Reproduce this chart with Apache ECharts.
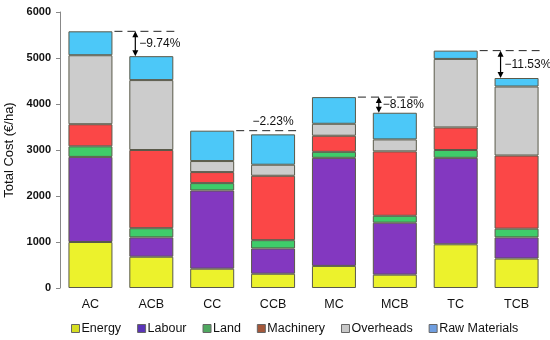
<!DOCTYPE html>
<html><head><meta charset="utf-8">
<script src="https://cdn.jsdelivr.net/npm/echarts@6/dist/echarts.min.js"></script>
<style>html,body{margin:0;padding:0;background:#fff}#c{width:550px;height:340px}</style>
</head><body><div id="c"></div>
<script>
const categories = ['AC','ACB','CC','CCB','MC','MCB','TC','TCB'];
const energy      = [1000, 680, 420, 310, 480, 290, 950, 640];
const labour      = [1850, 420, 1700, 550, 2350, 1130, 1880, 460];
const land        = [230, 200, 160, 180, 130, 150, 170, 190];
const machinery   = [480, 1700, 240, 1400, 350, 1400, 490, 1590];
const overheads   = [1500, 1520, 240, 240, 260, 260, 1490, 1500];
const rawMaterials= [520, 520, 660, 660, 580, 580, 180, 185];
const seriesNames = ['Energy','Labour','Land','Machinery','Overheads','Raw Materials'];
const yTicks = [0, 1000, 2000, 3000, 4000, 5000, 6000];
const changeLabels = ['−9.74%','−2.23%','−8.18%','−11.53%'];
const changeArrow = [true, false, true, true];

const values = [energy, labour, land, machinery, overheads, rawMaterials];
const colors = ['#ecf22c','#8338c0','#3fcc6a','#fb4747','#cccccc','#4cc8f8'];
const legendColors = ['#d6de22','#5a34b8','#4fa860','#a4583a','#c8c8c8','#6f9ee0'];
const totals = categories.map((c,i)=>values.reduce((s,a)=>s+a[i],0));
const BAR_W = 44;
const FONT = '"Liberation Sans", Arial, sans-serif';

const annData = [];
for (let k = 0; k < categories.length/2; k++) {
  const i = 2*k;
  annData.push([i, totals[i], totals[i+1], k]);
}

const barSeries = seriesNames.map((n,si)=>({
  name: n, type: 'bar', stack: 'total', barWidth: BAR_W,
  data: values[si],
  itemStyle: { color: colors[si], borderColor: '#5a5a4a', borderWidth: 1 },
  emphasis: { disabled: true }
}));

const annSeries = {
  type: 'custom', name: 'ann', silent: true, z: 10,
  data: annData,
  encode: { x: 0, y: 1 },
  renderItem: function(params, api) {
    const i = api.value(0), base = api.value(1), next = api.value(2), k = api.value(3);
    const half = BAR_W/2;
    const p0 = api.coord([i, base]);
    const p1 = api.coord([i+1, base]);
    const p2 = api.coord([i+1, next]);
    const children = [];
    children.push({ type: 'line', shape: { x1: p0[0]+half+2, y1: p0[1], x2: p1[0]+half+1, y2: p1[1] },
      style: { stroke: '#222', lineWidth: 1, lineDash: [8,5] } });
    if (changeArrow[k]) {
      const ax = p1[0] - half + 6;
      const y1 = p0[1], y2 = p2[1];
      children.push({ type: 'line', shape: { x1: ax, y1: y1+4, x2: ax, y2: y2-4 }, style: { stroke: '#000', lineWidth: 1.2 } });
      children.push({ type: 'polygon', shape: { points: [[ax, y1], [ax-3, y1+6], [ax+3, y1+6]] }, style: { fill: '#000' } });
      children.push({ type: 'polygon', shape: { points: [[ax, y2], [ax-3, y2-6], [ax+3, y2-6]] }, style: { fill: '#000' } });
      children.push({ type: 'text', x: ax+4, y: (y1+y2)/2,
        style: { text: changeLabels[k], fill: '#111', font: '12px ' + FONT, verticalAlign: 'middle', align: 'left' } });
    } else {
      children.push({ type: 'text', x: p1[0], y: p1[1]-3,
        style: { text: changeLabels[k], fill: '#111', font: '12px ' + FONT, verticalAlign: 'bottom', align: 'center' } });
    }
    return { type: 'group', children: children };
  }
};

const chart = echarts.init(document.getElementById('c'), null, { renderer: 'canvas' });
chart.setOption({
  animation: false,
  backgroundColor: '#fff',
  textStyle: { fontFamily: FONT },
  grid: { left: 60, right: 3, top: 12, bottom: 52, containLabel: false, outerBoundsMode: 'none' },
  legend: {
    top: 317, left: 66, itemWidth: 8, itemHeight: 8, itemGap: 16,
    icon: 'rect',
    textStyle: { fontSize: 12.5, color: '#111', padding: [0,0,0,-3] },
    data: seriesNames.map((n,si)=>({ name: n, itemStyle: { color: legendColors[si], borderColor: '#666', borderWidth: 1 } }))
  },
  xAxis: {
    type: 'category', data: categories,
    axisLine: { show: false }, axisTick: { show: false },
    axisLabel: { fontSize: 12.5, color: '#111', margin: 10 }
  },
  yAxis: {
    type: 'value', min: yTicks[0], max: yTicks[yTicks.length-1], interval: 1000,
    name: 'Total Cost (€/ha)', nameLocation: 'middle', nameGap: 42,
    nameTextStyle: { fontSize: 13, color: '#111' },
    axisLine: { show: true, lineStyle: { color: '#888' } },
    axisTick: { show: true, length: 4, lineStyle: { color: '#888' } },
    splitLine: { show: false },
    axisLabel: { fontSize: 11, fontWeight: 'bold', color: '#111', margin: 9, formatter: v => String(v) }
  },
  series: barSeries.concat([annSeries])
});
</script></body></html>
